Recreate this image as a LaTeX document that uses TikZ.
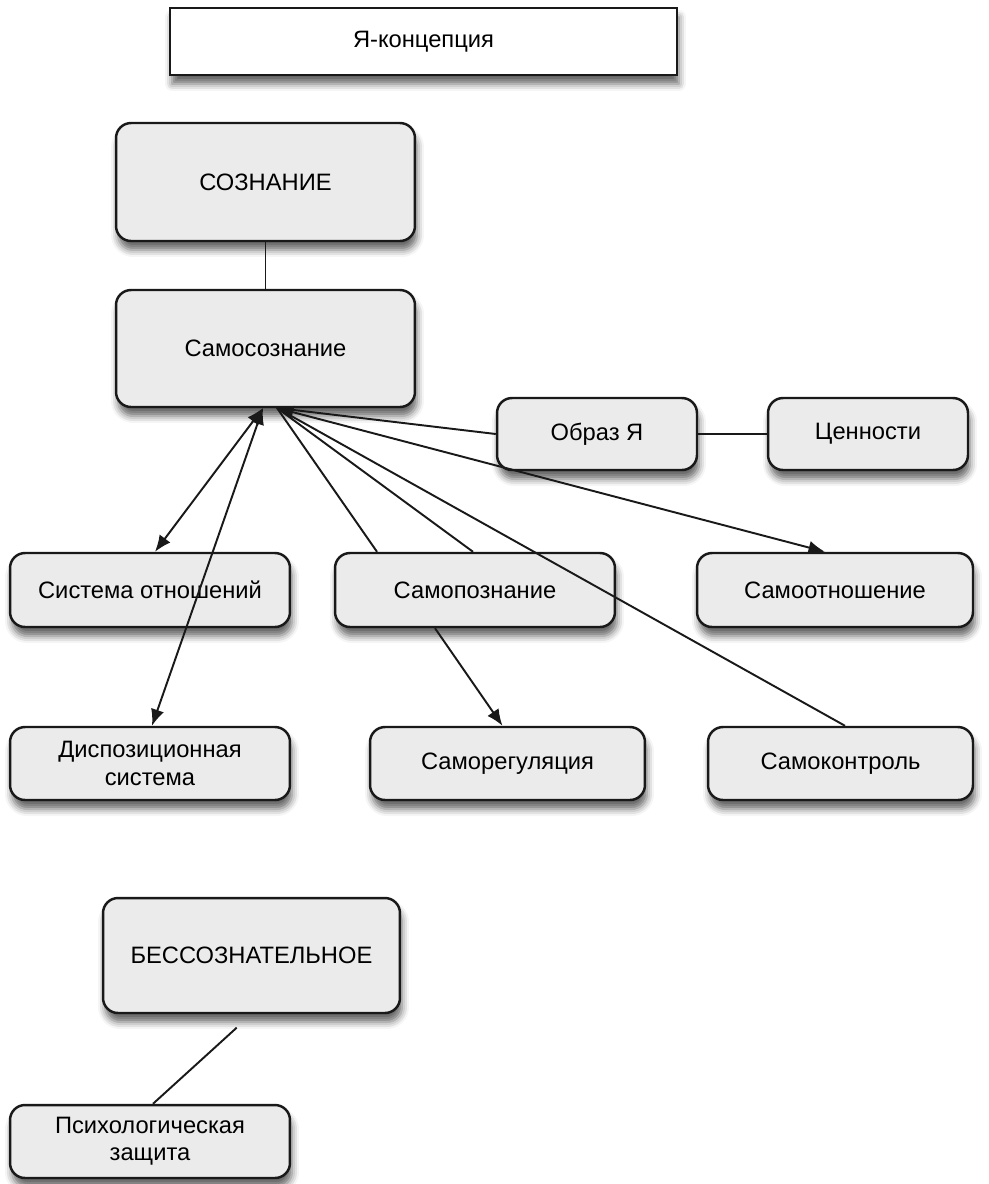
\documentclass[tikz,border=0pt]{standalone}
\usepackage{fontspec}
\setmainfont{Liberation Sans}
\usetikzlibrary{arrows.meta,shadows.blur,calc}
\begin{document}
\begin{tikzpicture}[x=0.02cm,y=-0.02cm,
  box/.style={draw=black!90,line width=1.4pt,rounded corners=0.3cm,fill=black!8,
    font=\fontsize{13.5}{15.5}\selectfont,align=center,inner sep=0pt,
    blur shadow={shadow xshift=0.4mm,shadow yshift=-1.8mm,shadow blur radius=1.4mm,shadow opacity=60}},
  conn/.style={line width=1.1pt,draw=black!90},
  arrEnd/.style={-{Latex[length=3.3mm,width=2.7mm]}},
  arrBoth/.style={{Latex[length=3.3mm,width=2.7mm]}-{Latex[length=3.3mm,width=2.7mm]}}]
\useasboundingbox (0,0) rectangle (989,1184);
\node[box,rounded corners=0pt,fill=white,minimum width=10.14cm,minimum height=1.34cm] (ya) at (423.5,41.5) {Я-концепция};
\node[box,minimum width=5.98cm,minimum height=2.36cm] (soz) at (265.5,182) {СОЗНАНИЕ};
\node[box,minimum width=5.98cm,minimum height=2.34cm] (samosoz) at (265.5,348.5) {Самосознание};
\node[box,minimum width=4.0cm,minimum height=1.44cm] (obraz) at (597,434) {Образ Я};
\node[box,minimum width=4.0cm,minimum height=1.44cm] (cen) at (868,434) {Ценности};
\node[box,minimum width=5.6cm,minimum height=1.48cm] (sist) at (150,590) {Система отношений};
\node[box,minimum width=5.6cm,minimum height=1.48cm] (samopozn) at (475,590) {Самопознание};
\node[box,minimum width=5.52cm,minimum height=1.48cm] (samootn) at (835,590) {Самоотношение};
\node[box,minimum width=5.6cm,minimum height=1.46cm] (disp) at (150,763.5) {Диспозиционная\\система};
\node[box,minimum width=5.5cm,minimum height=1.46cm] (samoreg) at (507.5,763.5) {Саморегуляция};
\node[box,minimum width=5.3cm,minimum height=1.46cm] (samokontr) at (840.5,763.5) {Самоконтроль};
\node[box,minimum width=5.94cm,minimum height=2.3cm] (bess) at (251.5,955.5) {БЕССОЗНАТЕЛЬНОЕ};
\node[box,minimum width=5.6cm,minimum height=1.46cm] (psych) at (150,1141.5) {Психологическая\\защита};
\coordinate (cL) at (263,408);
\coordinate (cR) at (277,408);
\draw[conn] (soz.south) -- (samosoz.north);
\draw[conn] (obraz.east) -- (cen.west);
\draw[conn,arrBoth] (cL) -- ($(sist.north)+(5,0)$);
\draw[conn,arrBoth] (cL) -- ($(disp.north)+(2,0)$);
\draw[conn,arrBoth] (cR) -- ($(samootn.north)+(-10,0)$);
\draw[conn] (cR) -- (obraz.west);
\draw[conn] (cR) -- ($(samopozn.north)+(-98,0)$);
\draw[conn] (cR) -- ($(samopozn.north)+(-2,0)$);
\draw[conn] (cR) -- ($(samokontr.north)+(4.5,0)$);
\draw[conn,arrEnd] ($(samopozn.south)+(-40,0)$) -- ($(samoreg.north)+(-5,0)$);
\draw[conn,shorten <=0.4cm] (bess.south) -- ($(psych.north)+(3,0)$);
\end{tikzpicture}
\end{document}
